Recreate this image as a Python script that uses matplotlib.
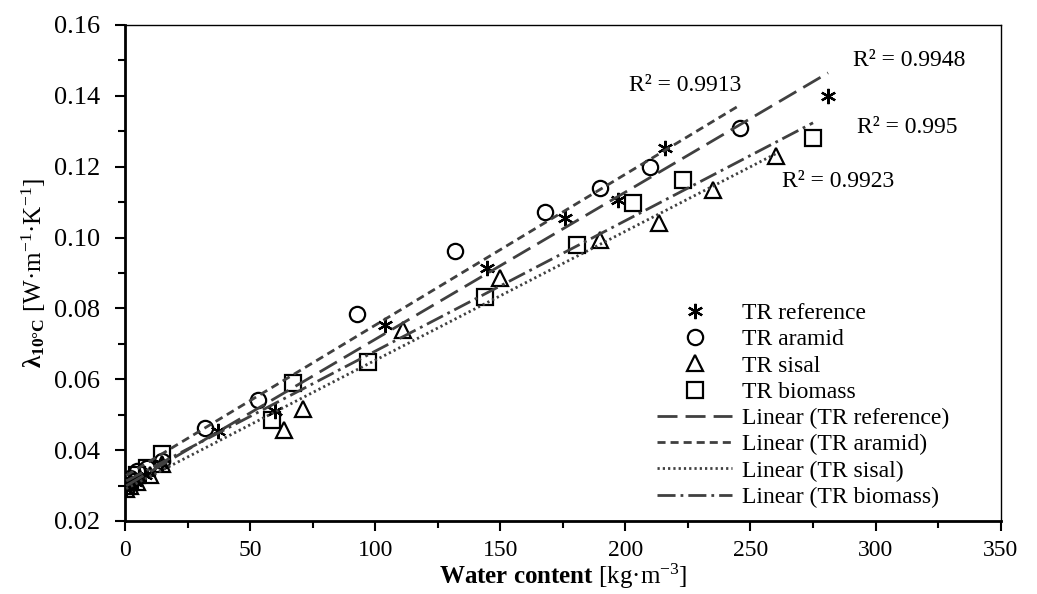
import numpy as np
import matplotlib
matplotlib.use('Agg')
import matplotlib.pyplot as plt
from matplotlib.ticker import MultipleLocator, FormatStrFormatter

plt.rcParams['font.family'] = 'Liberation Serif'
plt.rcParams['mathtext.fontset'] = 'custom'
plt.rcParams['mathtext.rm'] = 'Liberation Serif'
plt.rcParams['mathtext.it'] = 'Liberation Serif:italic'
plt.rcParams['mathtext.bf'] = 'Liberation Serif:bold'

# TR reference
x_ref = [0.5, 2, 4, 8, 15, 37, 60, 104, 144.5, 176, 197, 216, 281]
y_ref = [0.029, 0.030, 0.031, 0.033, 0.036, 0.0453, 0.051, 0.0754, 0.0914, 0.1055, 0.1107, 0.1252, 0.140]
# TR aramid
x_ara = [0.5, 2, 5, 9, 15, 32, 53, 92.6, 131.8, 168, 190, 210, 246]
y_ara = [0.031, 0.032, 0.034, 0.035, 0.037, 0.0463, 0.0542, 0.0785, 0.0961, 0.1073, 0.114, 0.120, 0.131]
# TR sisal
x_sis = [0.5, 2, 5, 10, 15, 63.5, 71, 111, 150, 190, 213.5, 235, 260]
y_sis = [0.029, 0.030, 0.031, 0.033, 0.036, 0.0458, 0.0516, 0.074, 0.0886, 0.0994, 0.1042, 0.1135, 0.123]
# TR biomass
x_bio = [0.5, 2, 5, 9, 15, 58.6, 67.3, 97, 144, 180.5, 203, 223, 275]
y_bio = [0.030, 0.031, 0.033, 0.035, 0.039, 0.0486, 0.0589, 0.065, 0.0832, 0.0978, 0.1097, 0.1163, 0.128]

labels = ['TR reference', 'TR aramid', 'TR sisal', 'TR biomass']
r2_text = ['R² = 0.9948', 'R² = 0.9913', 'R² = 0.9923', 'R² = 0.995']

fig = plt.figure(figsize=(10.37, 5.94), dpi=100)
ax = fig.add_axes([0.1205, 0.123, 0.8445, 0.835])

line_col = '#404040'
markers = [(6, 2, 0), 'o', '^', 's']
styles = [(0, (7.2, 2.9)), (0, (2.9, 1.8)), (0, (0.8, 1.1)), (0, (6.5, 1.8, 1, 1.8))]
series = [(x_ref, y_ref), (x_ara, y_ara), (x_sis, y_sis), (x_bio, y_bio)]

pts = []
for (xs, ys), m, lab in zip(series, markers, labels):
    p, = ax.plot(xs, ys, linestyle='none', marker=m, markersize=11,
                 markerfacecolor='none', markeredgecolor='black', markeredgewidth=1.6,
                 label=lab, zorder=3)
    pts.append(p)

fits = []
for (xs, ys), ls, lab in zip(series, styles, labels):
    k, b = np.polyfit(xs, ys, 1)
    xx = np.array([min(xs), max(xs)])
    l, = ax.plot(xx, k * xx + b, color=line_col, linestyle=ls, linewidth=2,
                 label='Linear (%s)' % lab, zorder=4)
    fits.append(l)

fs = 17
ax.text(290.9, 0.1501, r2_text[0], fontsize=fs, va='center', ha='left')
ax.text(246.5, 0.143, r2_text[1], fontsize=fs, va='center', ha='right')
ax.text(262.5, 0.1157, r2_text[2], fontsize=fs, va='center', ha='left')
ax.text(292.4, 0.131, r2_text[3], fontsize=fs, va='center', ha='left')

ax.set_xlim(0, 350)
ax.set_ylim(0.02, 0.16)
ax.xaxis.set_major_locator(MultipleLocator(50))
ax.xaxis.set_minor_locator(MultipleLocator(25))
ax.yaxis.set_major_locator(MultipleLocator(0.02))
ax.yaxis.set_minor_locator(MultipleLocator(0.01))
ax.yaxis.set_major_formatter(FormatStrFormatter('%.2f'))
ax.tick_params(which='major', direction='out', length=7, width=1.5, labelsize=fs)
ax.tick_params(which='minor', direction='out', length=5, width=1.5)
ax.tick_params(axis='y', which='major', pad=11, labelsize=19)
ax.tick_params(axis='x', which='major', pad=7)
for s in ['left', 'bottom']:
    ax.spines[s].set_linewidth(2)
for s in ['top', 'right']:
    ax.spines[s].set_linewidth(1)

ax.set_xlabel(r'$\mathbf{Water\ content}$ [kg·m$^{-3}$]', fontsize=18, labelpad=0)
ax.set_ylabel(r'$\mathbf{\lambda_{10°C}}$ [W·m$^{-1}$·K$^{-1}$]', fontsize=18, labelpad=4)

ax.legend(handles=pts + fits, loc='lower left', bbox_to_anchor=(0.622, 0.125),
          bbox_transform=fig.transFigure, frameon=False, fontsize=fs,
          handlelength=3.2, handletextpad=0.42, labelspacing=0.2, borderpad=0)

fig.savefig('out.png', dpi=100)
